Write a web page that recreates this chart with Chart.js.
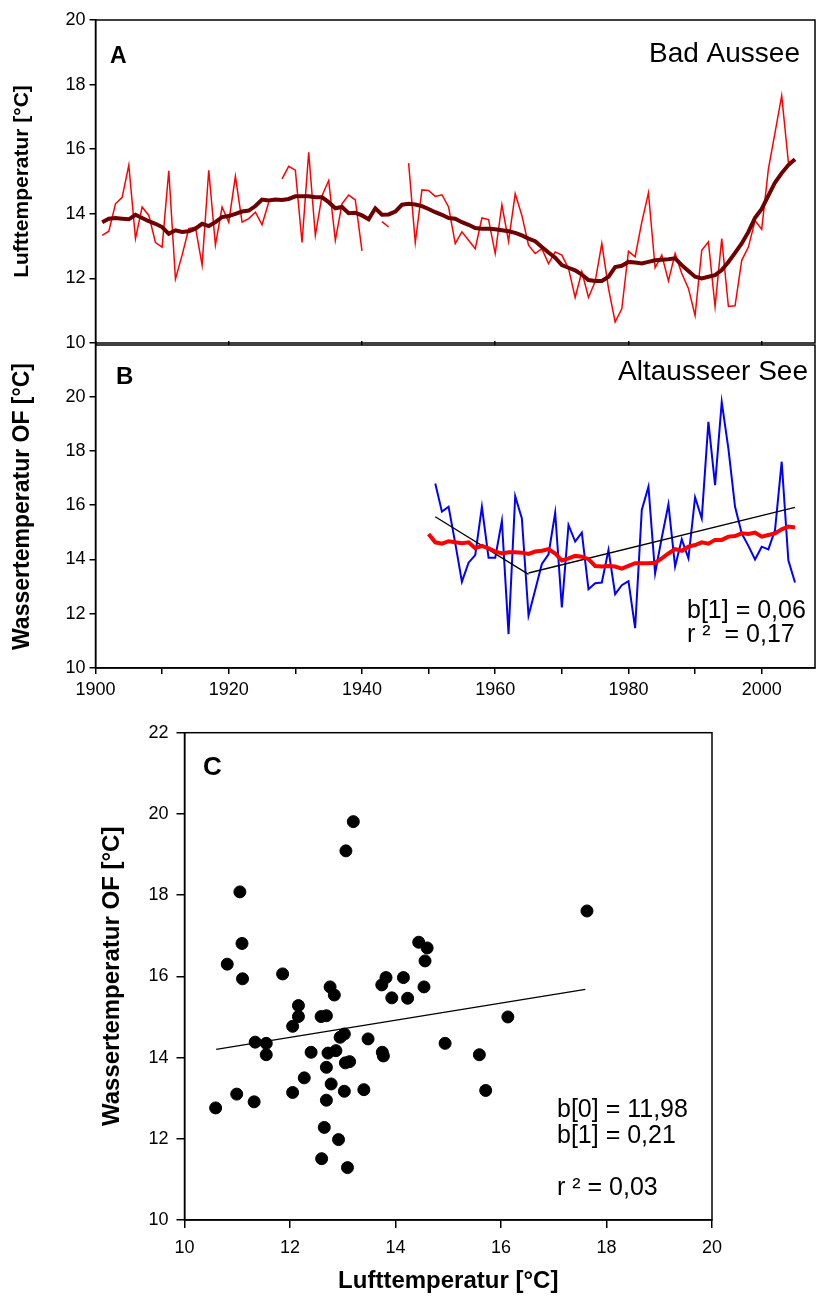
<!DOCTYPE html>
<html>
<head>
<meta charset="utf-8">
<script src="https://cdn.jsdelivr.net/npm/chart.js@4.4.1/dist/chart.umd.min.js"></script>
<style>
  body { margin: 0; background: #fff; }
  #wrap { position: relative; width: 817px; height: 1300px; }
  canvas { position: absolute; left: 0; }
</style>
</head>
<body>
<div id="wrap">
  <canvas id="chartA" width="817" height="360" style="top:0px"></canvas>
  <canvas id="chartB" width="817" height="390" style="top:330px"></canvas>
  <canvas id="chartC" width="817" height="600" style="top:700px"></canvas>
</div>
<script>
// ---- data ----
var yearsA = [1901,1902,1903,1904,1905,1906,1907,1908,1909,1910,
  1911,1912,1913,1914,1915,1916,1917,1918,1919,1920,
  1921,1922,1923,1924,1925,1926,1927,1928,1929,1930,
  1931,1932,1933,1934,1935,1936,1937,1938,1939,1940,
  1941,1942,1943,1944,1945,1946,1947,1948,1949,1950,
  1951,1952,1953,1954,1955,1956,1957,1958,1959,1960,
  1961,1962,1963,1964,1965,1966,1967,1968,1969,1970,
  1971,1972,1973,1974,1975,1976,1977,1978,1979,1980,
  1981,1982,1983,1984,1985,1986,1987,1988,1989,1990,
  1991,1992,1993,1994,1995,1996,1997,1998,1999,2000,
  2001,2002,2003,2004,2005];

// Bad Aussee air temperature (annual)
var airRaw = [13.33,13.46,14.31,14.51,15.51,13.23,14.21,13.95,13.11,12.97,
  15.33,11.98,12.72,13.54,13.59,12.41,15.35,13.03,14.21,13.74,
  15.16,13.74,13.85,14.05,13.66,14.36,null,15.08,15.47,15.35,
  13.11,15.90,13.33,14.56,15.03,13.18,14.31,14.58,14.43,12.85,
  null,null,13.76,13.59,null,null,15.57,13.11,14.74,14.72,
  14.54,14.59,14.21,13.08,13.44,13.18,12.92,13.87,13.82,12.77,
  14.28,13.15,14.62,13.95,13.03,12.77,12.92,12.46,12.82,12.72,
  12.31,11.41,12.21,11.41,11.90,13.08,11.69,10.65,11.06,12.84,
  12.67,13.74,14.65,12.33,12.72,11.92,12.77,12.15,11.69,10.85,
  12.87,13.13,11.13,13.23,11.13,11.15,12.56,12.97,13.79,13.52,
  15.38,16.51,17.66,15.60,15.65];

// smoothed air temperature
var airSmooth = [13.74,13.85,13.87,13.85,13.83,13.97,13.87,13.77,13.69,13.59,
  13.38,13.49,13.44,13.46,13.54,13.69,13.62,13.74,13.90,13.93,
  14.00,14.07,14.10,14.24,14.44,14.41,14.44,14.43,14.46,14.54,
  14.54,14.54,14.51,14.51,14.36,14.17,14.21,14.02,14.03,13.95,
  13.83,14.17,13.97,13.98,14.07,14.28,14.31,14.29,14.24,14.15,
  14.05,13.97,13.87,13.85,13.74,13.66,13.56,13.54,13.54,13.52,
  13.49,13.46,13.41,13.33,13.23,13.15,12.97,12.80,12.64,12.41,
  12.33,12.25,12.12,11.95,11.92,11.92,12.05,12.35,12.39,12.51,
  12.49,12.46,12.51,12.56,12.58,12.59,12.62,12.41,12.23,12.05,
  12.00,12.05,12.10,12.26,12.51,12.79,13.08,13.44,13.88,14.15,
  14.56,14.97,15.26,15.51,15.69];

var yearsB = [1950,1951,1952,1953,1954,1955,1956,1957,1958,1959,
  1960,1961,1962,1963,1964,1965,1966,1967,1968,1969,
  1970,1971,1972,1973,1974,1975,1976,1977,1978,1979,
  1980,1981,1982,1983,1984,1985,1986,1987,1988,1989,
  1990,1991,1992,1993,1994,1995,1996,1997,1998,1999,
  2000,2001,2002,2003,2004,2005];

// Altausseer See surface water temperature (1950 not measured)
var waterRaw = [null,16.80,15.76,15.94,14.60,13.18,13.88,14.16,15.94,14.06,
  14.06,15.42,11.25,16.33,15.51,11.93,12.87,13.83,14.19,15.72,
  12.23,15.27,14.66,14.99,12.90,13.12,13.15,14.35,12.72,13.05,
  13.20,11.47,15.82,16.68,13.49,14.80,16.03,13.74,14.74,14.04,
  16.29,15.51,19.07,16.74,19.80,18.08,15.94,14.96,14.50,14.00,
  14.47,14.37,15.08,17.60,13.97,13.15];

var waterSmooth = [14.94,14.63,14.58,14.67,14.63,14.60,14.63,14.41,14.50,14.41,
  14.29,14.22,14.26,14.26,14.25,14.20,14.29,14.32,14.38,14.22,
  13.96,14.04,14.13,14.10,14.01,13.76,13.74,13.76,13.74,13.66,
  13.76,13.86,13.86,13.86,13.88,14.04,14.22,14.38,14.32,14.47,
  14.53,14.63,14.58,14.72,14.72,14.84,14.86,14.96,14.94,14.99,
  14.84,14.90,14.96,15.11,15.21,15.18];

// piecewise trend
var trendYears1 = [1951, 1965];
var trendVals1 = [15.57, 13.45];
var trendYears2 = [1965, 2005];
var trendVals2 = [13.50, 15.92];

// scatter: air vs water
var scatterAir = [10.59,10.99,11.32,11.34,11.55,11.55,12.05,12.05,12.16,12.16,
  12.27,12.40,12.59,12.69,12.60,12.65,12.69,12.69,12.72,12.78,
  12.87,12.92,12.95,13.03,13.03,13.05,13.13,13.09,13.40,13.48,
  13.75,13.77,14.94,15.59,15.71,16.13,10.81,11.05,11.09,11.10,
  11.86,12.76,12.84,13.06,13.20,13.74,13.82,13.93,14.15,14.23,
  14.44,14.60,14.56,14.54,17.63];
var scatterWater = [12.76,13.10,12.91,14.38,14.35,14.07,14.77,13.14,15.01,15.28,
  13.50,14.13,15.01,15.03,11.51,12.28,12.95,13.76,14.11,13.35,
  14.17,11.98,14.50,14.58,13.17,13.87,13.90,11.29,13.21,14.46,
  14.13,14.04,14.35,14.07,13.19,15.00,16.30,18.08,16.81,15.94,
  16.06,15.74,15.54,19.09,19.81,15.79,15.97,15.47,15.97,15.46,
  16.84,16.70,16.38,15.74,17.61];

var fitAir = [10.6, 17.6];
var fitWater = [14.20, 15.68];

// ---- helpers ----
var FONT = '"Liberation Sans", Arial, Helvetica, sans-serif';
Chart.defaults.font.family = FONT;
Chart.defaults.color = '#000';

function pts(xs, ys) {
  return xs.map(function (x, i) { return { x: x, y: ys[i] }; });
}

var frame = {
  id: 'frame',
  afterDatasetsDraw: function (chart, args, opts) {
    var a = chart.chartArea, ctx = chart.ctx;
    ctx.save();
    ctx.strokeStyle = '#000';
    ctx.lineWidth = 1.5;
    ctx.strokeRect(a.left, a.top, a.right - a.left, a.bottom - a.top);
    (opts.texts || []).forEach(function (t) {
      ctx.font = t.font;
      ctx.textAlign = t.align || 'left';
      ctx.textBaseline = 'middle';
      ctx.fillStyle = '#000';
      ctx.fillText(t.text, t.x, t.y);
    });
    ctx.restore();
  }
};

var tickGrid = function (len) {
  return { drawOnChartArea: false, drawTicks: true, tickLength: len, color: '#000', lineWidth: 1.5 };
};
var axisBorder = { display: true, color: '#000', width: 1.5 };
var TICK = 18;

var common = {
  responsive: false,
  animation: false,
  events: [],
  plugins: { legend: { display: false }, tooltip: { enabled: false } }
};

// ---- A: Bad Aussee ----
new Chart(document.getElementById('chartA'), {
  type: 'line',
  data: {
    datasets: [
      { data: pts(yearsA, airSmooth), borderColor: '#6e0000', borderWidth: 4, pointRadius: 0, order: 0 },
      { data: pts(yearsA, airRaw), borderColor: '#ff0000', borderWidth: 1.5, pointRadius: 0, spanGaps: false, order: 1 }
    ]
  },
  options: Object.assign({}, common, {
    layout: { padding: { top: 20, right: 2, bottom: 17, left: 0 } },
    scales: {
      x: { type: 'linear', min: 1900, max: 2008, display: false },
      y: {
        min: 10, max: 20,
        ticks: { stepSize: 2, font: { size: TICK }, padding: 4 },
        grid: tickGrid(6),
        border: axisBorder,
        title: { display: true, text: 'Lufttemperatur [°C]', font: { size: 21, weight: 'bold' }, padding: { top: 10, bottom: 0 } },
        afterFit: function (s) { s.width = 95.5; }
      }
    },
    plugins: Object.assign({}, common.plugins, {
      frame: { texts: [
        { text: 'A', x: 110, y: 57, font: 'bold 23px ' + FONT },
        { text: 'Bad Aussee', x: 800, y: 54, align: 'right', font: '28px ' + FONT }
      ] }
    })
  }),
  plugins: [frame]
});

// ---- B: Altausseer See ----
var offB = 330;
new Chart(document.getElementById('chartB'), {
  type: 'line',
  data: {
    datasets: [
      { data: pts(yearsB, waterSmooth), borderColor: '#ff0000', borderWidth: 4, pointRadius: 0, xAxisID: 'x', yAxisID: 'y', order: 0 },
      { data: pts(trendYears1, trendVals1), borderColor: '#000', borderWidth: 1.3, pointRadius: 0, xAxisID: 'x', yAxisID: 'y', order: 1 },
      { data: pts(trendYears2, trendVals2), borderColor: '#000', borderWidth: 1.3, pointRadius: 0, xAxisID: 'x', yAxisID: 'y', order: 1 },
      { data: pts(yearsB, waterRaw), borderColor: '#0000ff', borderWidth: 2, pointRadius: 0, spanGaps: false, xAxisID: 'x', yAxisID: 'y', order: 2 }
    ]
  },
  options: Object.assign({}, common, {
    layout: { padding: { top: 11, right: 2, bottom: 0, left: 0 } },
    scales: {
      x: {
        type: 'linear', min: 1900, max: 2008,
        afterBuildTicks: function (s) { s.ticks = s.ticks.filter(function (t) { return t.value % 10 === 0; }); },
        ticks: {
          stepSize: 10, includeBounds: false, autoSkip: false, maxRotation: 0, font: { size: TICK }, padding: 5,
          callback: function (v) { return v % 20 === 0 ? String(v) : ''; }
        },
        grid: tickGrid(6),
        border: axisBorder,
        afterFit: function (s) { s.height = 52; }
      },
      xTop: {
        type: 'linear', position: 'top', min: 1900, max: 2008,
        afterBuildTicks: function (s) { s.ticks = s.ticks.filter(function (t) { return t.value % 20 === 0; }); },
        ticks: { display: false, stepSize: 20, includeBounds: false },
        grid: tickGrid(4),
        border: { display: false },
        afterFit: function (s) { s.height = 4; }
      },
      y: {
        min: 10, max: 21.9,
        afterBuildTicks: function (s) { s.ticks = s.ticks.filter(function (t) { return t.value <= 20; }); },
        ticks: { stepSize: 2, includeBounds: false, font: { size: TICK }, padding: 4 },
        grid: tickGrid(6),
        border: axisBorder,
        title: { display: true, text: 'Wassertemperatur OF [°C]', font: { size: 23, weight: 'bold' }, padding: { top: 9, bottom: 0 } },
        afterFit: function (s) { s.width = 95.5; }
      }
    },
    plugins: Object.assign({}, common.plugins, {
      frame: { texts: [
        { text: 'B', x: 116, y: 377 - offB, font: 'bold 24px ' + FONT },
        { text: 'Altausseer See', x: 808, y: 372 - offB, align: 'right', font: '28px ' + FONT },
        { text: 'b[1] = 0,06', x: 687, y: 611 - offB, font: '25px ' + FONT },
        { text: 'r ²  = 0,17', x: 687, y: 635 - offB, font: '25px ' + FONT }
      ] }
    })
  }),
  plugins: [frame]
});

// ---- C: scatter ----
var offC = 700;
new Chart(document.getElementById('chartC'), {
  type: 'scatter',
  data: {
    datasets: [
      { data: pts(scatterAir, scatterWater), backgroundColor: '#000', borderColor: '#000', pointRadius: 6, order: 0 },
      { data: pts(fitAir, fitWater), showLine: true, borderColor: '#000', borderWidth: 1.3, pointRadius: 0, order: 1 }
    ]
  },
  options: Object.assign({}, common, {
    layout: { padding: { top: 32.7, right: 105, bottom: 0, left: 90 } },
    scales: {
      x: {
        type: 'linear', min: 10, max: 20,
        ticks: { stepSize: 2, font: { size: TICK }, padding: 9, maxRotation: 0 },
        grid: tickGrid(8),
        border: axisBorder,
        title: { display: true, text: 'Lufttemperatur [°C]', font: { size: 24, weight: 'bold' }, padding: { top: 0, bottom: 4 } },
        afterFit: function (s) { s.height = 80; }
      },
      y: {
        min: 10, max: 22,
        ticks: { stepSize: 2, font: { size: TICK }, padding: 8 },
        grid: tickGrid(8),
        border: axisBorder,
        title: { display: true, text: 'Wassertemperatur OF [°C]', font: { size: 24, weight: 'bold' }, padding: { top: 8, bottom: 0 } },
        afterFit: function (s) { s.width = 94.5; }
      }
    },
    plugins: Object.assign({}, common.plugins, {
      frame: { texts: [
        { text: 'C', x: 203, y: 768 - offC, font: 'bold 26px ' + FONT },
        { text: 'b[0] = 11,98', x: 557, y: 1110 - offC, font: '25px ' + FONT },
        { text: 'b[1] = 0,21', x: 557, y: 1136 - offC, font: '25px ' + FONT },
        { text: 'r ² = 0,03', x: 557, y: 1188 - offC, font: '25px ' + FONT }
      ] }
    })
  }),
  plugins: [frame]
});
</script>
</body>
</html>
